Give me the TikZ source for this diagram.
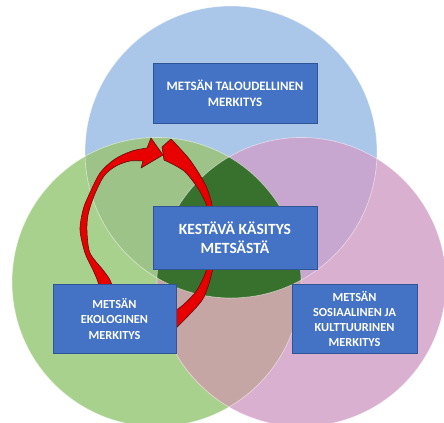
\documentclass[tikz,border=0pt]{standalone}
\usepackage{fontspec}
\setmainfont{Carlito}
\usepackage{tikz}
\usetikzlibrary{positioning}

\definecolor{skyblue}{RGB}{170,199,233}
\definecolor{leafgreen}{RGB}{169,209,142}
\definecolor{rosepink}{RGB}{218,176,208}
\definecolor{skyleaf}{RGB}{157,195,136}
\definecolor{skyrose}{RGB}{199,166,208}
\definecolor{leafrose}{RGB}{198,166,164}
\definecolor{forestdark}{RGB}{56,112,46}
\definecolor{boxblue}{RGB}{68,114,196}
\definecolor{boxedge}{RGB}{47,85,151}
\definecolor{arrowred}{RGB}{232,0,0}
\definecolor{arrowedge}{RGB}{90,16,16}

\begin{document}
\begin{tikzpicture}[
  x=0.03cm,y=-0.03cm,
  font=\bfseries\fontsize{10.5}{13}\selectfont,
  box/.style={draw=boxedge,fill=boxblue,text=white,align=center,inner sep=2pt,
              minimum width=3.69cm,minimum height=2.07cm},
  ring/.style={draw=white,draw opacity=0.5,line width=0.6pt},
  arrowfill/.style={fill=arrowred,draw=arrowedge,line width=0.5pt,line join=round}
]
\useasboundingbox (0,0) rectangle (444,423);
% circle centres
\coordinate (cTal) at (231,152);
\coordinate (cEko) at (156.5,282);
\coordinate (cSos) at (301.5,282);
\def\rTal{4.38cm}
\def\rLow{4.335cm}

% the three circles and their overlaps
\fill[skyblue]   (cTal) circle[radius=\rTal];
\fill[leafgreen] (cEko) circle[radius=\rLow];
\fill[rosepink]  (cSos) circle[radius=\rLow];
\begin{scope}
  \clip (cTal) circle[radius=\rTal];
  \fill[skyleaf] (cEko) circle[radius=\rLow];
  \fill[skyrose] (cSos) circle[radius=\rLow];
\end{scope}
\begin{scope}
  \clip (cEko) circle[radius=\rLow];
  \fill[leafrose] (cSos) circle[radius=\rLow];
  \clip (cSos) circle[radius=\rLow];
  \fill[forestdark] (cTal) circle[radius=\rTal];
\end{scope}
\draw[ring] (cTal) circle[radius=\rTal];
\draw[ring] (cEko) circle[radius=\rLow];
\draw[ring] (cSos) circle[radius=\rLow];

% curved red arrows
\draw[arrowfill]
  plot[smooth] coordinates {(100,292) (98,282) (93,270) (85,253) (80,230) (83,210)
                            (88,197) (100,173) (115,159) (132,151) (147,148)}
  -- (151,138) -- (163,155) -- (141,168) --
  plot[smooth] coordinates {(143,161) (130,161) (116,166) (104,176) (94,196) (88,215)
                            (87,232) (90,253) (103,270) (110,280) (114,292)}
  -- cycle;
\draw[arrowfill]
  plot[smooth] coordinates {(171,139) (190,160) (206,186) (213,210) (215,240) (213,268)
                            (204,297) (190,314) (172,332)}
  --
  plot[smooth] coordinates {(165,318) (183,305) (197,290) (207,268) (210,240) (208,210)
                            (199,190) (184,171) (164,160)}
  -- (162,147) -- cycle;

% text boxes
\node[box,minimum width=4.92cm,minimum height=1.89cm,
      font=\bfseries\fontsize{13.3}{16}\selectfont] (mid) at (235,237.5)
  {KESTÄVÄ KÄSITYS\\METSÄSTÄ};
\node[box,minimum width=4.92cm,minimum height=1.8cm,above=2.46cm of mid,
      font=\bfseries\fontsize{11}{13.5}\selectfont] (tal)
  {METSÄN TALOUDELLINEN\\MERKITYS};
\node[box,below=0.45cm of mid,xshift=-3.615cm] (eko)
  {METSÄN\\EKOLOGINEN\\MERKITYS};
\node[box,minimum width=3.75cm,below=0.45cm of mid,xshift=3.585cm] (sos)
  {METSÄN\\SOSIAALINEN JA\\KULTTUURINEN\\MERKITYS};
\end{tikzpicture}
\end{document}
